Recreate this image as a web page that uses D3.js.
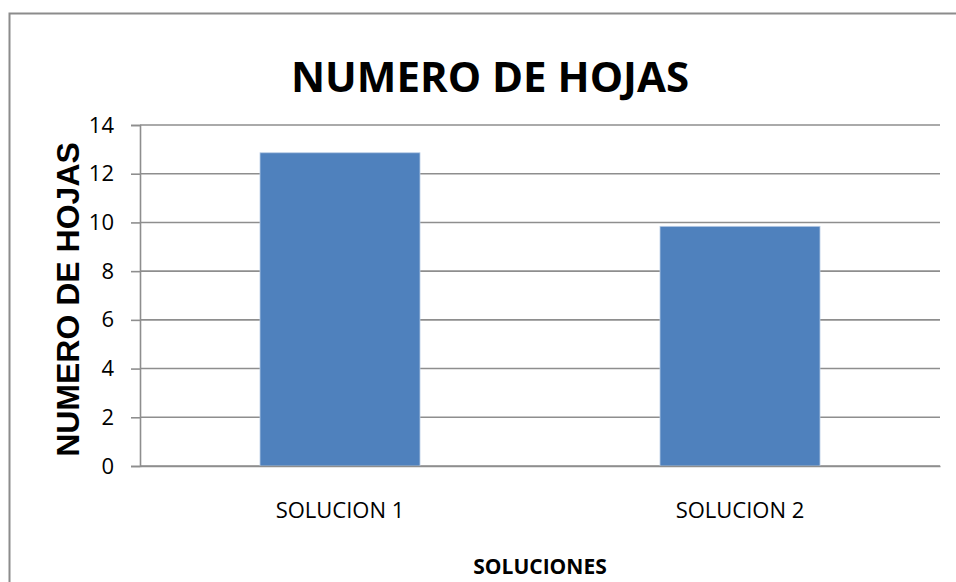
<!DOCTYPE html>
<html>
<head>
<meta charset="utf-8">
<script src="https://cdn.jsdelivr.net/npm/d3@7"></script>
<style>
  body { margin: 0; background: #fff; }
</style>
</head>
<body>
<svg></svg>
<script>
// chart data
var categories = ["SOLUCION 1", "SOLUCION 2"];
var hojas = [12.86, 9.84];
var yTicks = [0, 2, 4, 6, 8, 10, 12, 14];

var svgWidth = 956;
var svgHeight = 582;
var plotLeft = 140, plotRight = 940, plotTop = 125, plotBottom = 466;

var svg = d3.select("svg")
    .attr("width", svgWidth)
    .attr("height", svgHeight);

// outer frame (runs off the right and bottom edges)
svg.append("path")
    .attr("d", "M9.5," + svgHeight + " V13.5 H" + svgWidth)
    .attr("fill", "none")
    .attr("stroke", "#8c8c8c")
    .attr("stroke-width", 2);

var x = d3.scaleBand()
    .domain(categories)
    .range([plotLeft, plotRight])
    .paddingInner(0.6)
    .paddingOuter(0.3);

var y = d3.scaleLinear()
    .domain([0, 14])
    .range([plotBottom, plotTop]);

// gridlines
svg.append("g")
    .selectAll(null)
    .data(yTicks)
    .enter()
    .append("line")
    .attr("x1", plotLeft)
    .attr("x2", plotRight)
    .attr("y1", function(d) { return y(d); })
    .attr("y2", function(d) { return y(d); })
    .attr("stroke", "#8e8e8e")
    .attr("stroke-width", 1.6);

// bars
svg.append("g")
    .selectAll(null)
    .data(hojas)
    .enter()
    .append("rect")
    .attr("x", function(d, i) { return x(categories[i]); })
    .attr("y", function(d) { return y(d); })
    .attr("width", x.bandwidth())
    .attr("height", function(d) { return y(0) - y(d); })
    .attr("fill", "#4f81bd")
    .attr("stroke", "#b9cde5")
    .attr("stroke-width", 0.8);

// y axis
var yAxis = svg.append("g")
    .attr("transform", "translate(" + plotLeft + ",0)")
    .call(d3.axisLeft(y).tickValues(yTicks).tickSize(9).tickPadding(17));
yAxis.select(".domain").attr("stroke", "#8e8e8e").attr("stroke-width", 1.6);
yAxis.selectAll(".tick line").attr("stroke", "#8e8e8e").attr("stroke-width", 1.6);
yAxis.selectAll(".tick text")
    .attr("fill", "#000")
    .style("font-family", "'Open Sans', sans-serif")
    .style("font-size", "22px");

// x axis
var xAxis = svg.append("g")
    .attr("transform", "translate(0," + plotBottom + ")")
    .call(d3.axisBottom(x).tickSize(0).tickPadding(36));
xAxis.select(".domain").attr("stroke", "#8e8e8e").attr("stroke-width", 1.6);
xAxis.selectAll(".tick text")
    .attr("fill", "#000")
    .style("font-family", "'Open Sans', sans-serif")
    .style("font-size", "22px");

// title
svg.append("text")
    .attr("x", 490)
    .attr("y", 92)
    .attr("text-anchor", "middle")
    .style("font-family", "'Open Sans', sans-serif")
    .style("font-weight", "bold")
    .style("font-size", "42px")
    .text("NUMERO DE HOJAS");

// y axis title
svg.append("text")
    .attr("transform", "translate(79," + ((plotTop + plotBottom) / 2 + 4) + ") rotate(-90)")
    .attr("text-anchor", "middle")
    .style("font-family", "'Liberation Sans', Arial, sans-serif")
    .style("font-weight", "bold")
    .style("font-size", "32px")
    .text("NUMERO DE HOJAS");

// x axis title
svg.append("text")
    .attr("x", (plotLeft + plotRight) / 2)
    .attr("y", 574)
    .attr("text-anchor", "middle")
    .style("font-family", "'Open Sans', sans-serif")
    .style("font-weight", "bold")
    .style("font-size", "21px")
    .text("SOLUCIONES");
</script>
</body>
</html>
